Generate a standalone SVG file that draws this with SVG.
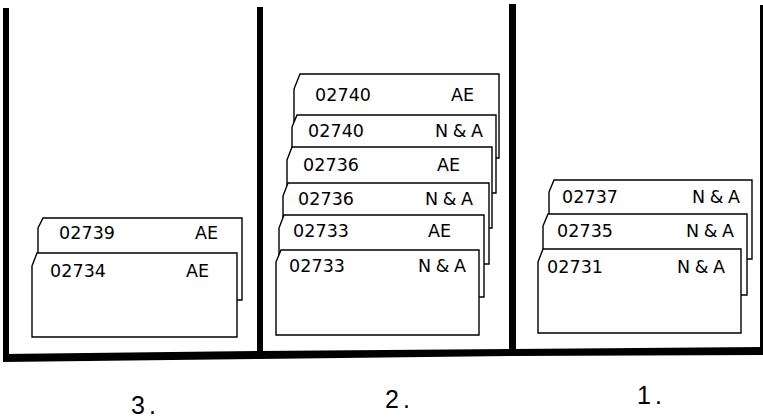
<svg xmlns="http://www.w3.org/2000/svg" width="763" height="419" viewBox="0 0 763 419">
<style>
.card{fill:#fff;stroke:#000;stroke-width:1.4;stroke-linejoin:miter}
.t{font-family:"DejaVu Sans","Liberation Sans",Arial,sans-serif;font-size:17.5px;fill:#000}
.lbl{font-family:"Liberation Sans",Arial,sans-serif;font-size:25px;fill:#000;letter-spacing:4px}
.wall{fill:#000}
</style>
<rect width="763" height="419" fill="#fff"/>
<g id="bins">
<rect class="wall" x="3" y="8" width="6" height="352"/>
<rect class="wall" x="257" y="7" width="6" height="350"/>
<rect class="wall" x="509" y="4" width="7" height="350"/>
<rect class="wall" x="760" y="5" width="3" height="348"/>
<polygon class="wall" points="3,354 258,351 513,349 763,347 763,355 513,356 258,359 3,362"/>
</g>
<g id="bin3">
<g id="card-02739-AE">
<path class="card" d="M38,228 L43,218 L242,218 L242,300 L38,300 Z"/>
<text class="t" x="59" y="239" textLength="56" lengthAdjust="spacing">02739</text>
<text class="t" x="195" y="239" textLength="23" lengthAdjust="spacing">AE</text>
</g>
<g id="card-02734-AE">
<path class="card" d="M32,266 L37,253 L237,253 L237,337 L32,337 Z"/>
<text class="t" x="50" y="277" textLength="56" lengthAdjust="spacing">02734</text>
<text class="t" x="186" y="277" textLength="23" lengthAdjust="spacing">AE</text>
</g>
</g>
<g id="bin2">
<g id="card-02740-AE">
<path class="card" d="M294,89 L300,74 L499,74 L499,158 L294,158 Z"/>
<text class="t" x="315" y="101" textLength="56" lengthAdjust="spacing">02740</text>
<text class="t" x="451" y="101" textLength="23" lengthAdjust="spacing">AE</text>
</g>
<g id="card-02740-NA">
<path class="card" d="M292,127 L297,115 L496,115 L496,193 L292,193 Z"/>
<text class="t" x="308" y="137" textLength="56" lengthAdjust="spacing">02740</text>
<text class="t" x="435" y="137" textLength="48" lengthAdjust="spacing">N&amp;A</text>
</g>
<g id="card-02736-AE">
<path class="card" d="M287,160 L292,147 L492,147 L492,228 L287,228 Z"/>
<text class="t" x="303" y="171" textLength="56" lengthAdjust="spacing">02736</text>
<text class="t" x="437" y="171" textLength="23" lengthAdjust="spacing">AE</text>
</g>
<g id="card-02736-NA">
<path class="card" d="M283,196 L288,183 L489,183 L489,264 L283,264 Z"/>
<text class="t" x="298" y="205" textLength="56" lengthAdjust="spacing">02736</text>
<text class="t" x="425" y="205" textLength="48" lengthAdjust="spacing">N&amp;A</text>
</g>
<g id="card-02733-AE">
<path class="card" d="M279,228 L284,215 L484,215 L484,297 L279,297 Z"/>
<text class="t" x="293" y="237" textLength="56" lengthAdjust="spacing">02733</text>
<text class="t" x="428" y="237" textLength="23" lengthAdjust="spacing">AE</text>
</g>
<g id="card-02733-NA">
<path class="card" d="M276,262 L281,250 L479,250 L479,335 L276,335 Z"/>
<text class="t" x="289" y="272" textLength="56" lengthAdjust="spacing">02733</text>
<text class="t" x="418" y="272" textLength="48" lengthAdjust="spacing">N&amp;A</text>
</g>
</g>
<g id="bin1">
<g id="card-02737-NA">
<path class="card" d="M549,192 L554,180 L752,180 L752,259 L549,259 Z"/>
<text class="t" x="562" y="203" textLength="56" lengthAdjust="spacing">02737</text>
<text class="t" x="692" y="203" textLength="48" lengthAdjust="spacing">N&amp;A</text>
</g>
<g id="card-02735-NA">
<path class="card" d="M543,226 L548,214 L747,214 L747,295 L543,295 Z"/>
<text class="t" x="557" y="237" textLength="56" lengthAdjust="spacing">02735</text>
<text class="t" x="686" y="237" textLength="48" lengthAdjust="spacing">N&amp;A</text>
</g>
<g id="card-02731-NA">
<path class="card" d="M538,262 L543,249 L741,249 L741,333 L538,333 Z"/>
<text class="t" x="547" y="273" textLength="56" lengthAdjust="spacing">02731</text>
<text class="t" x="677" y="273" textLength="48" lengthAdjust="spacing">N&amp;A</text>
</g>
</g>
<g id="labels">
<text class="lbl" x="131" y="414">3.</text>
<text class="lbl" x="385" y="408">2.</text>
<text class="lbl" x="637" y="404">1.</text>
</g>
</svg>
